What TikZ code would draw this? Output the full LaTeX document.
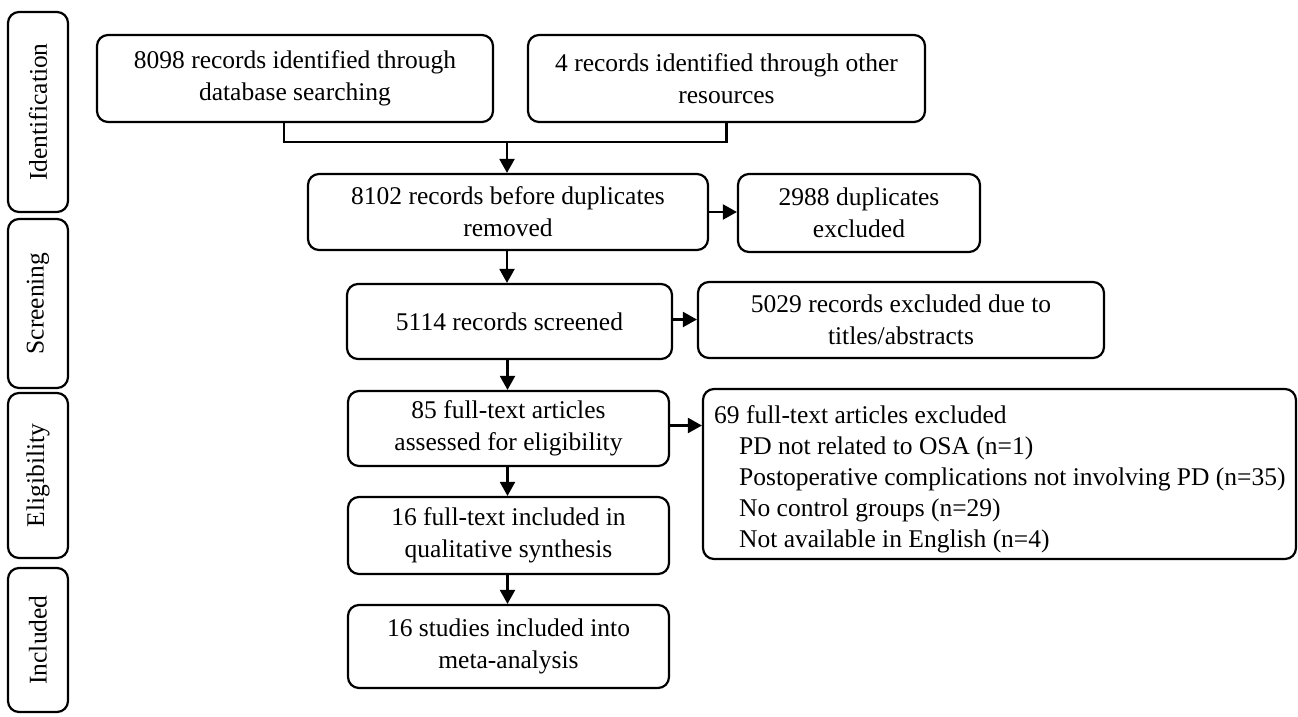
\documentclass[tikz,border=0pt]{standalone}
\usepackage{fontspec}
\setmainfont{Liberation Serif}
\usetikzlibrary{arrows.meta}
\tikzset{
  box/.style={draw=black, line width=2.2pt, rounded corners=11pt, align=center, inner sep=0pt,
    font=\fontsize{25.5}{32}\selectfont},
  side/.style={box},
  link/.style={draw=black, line width=2.2pt},
  arr/.style={link, -{Triangle[length=14pt,width=15pt]}},
}
\begin{document}
\begin{tikzpicture}[x=1pt,y=-1pt]
\fill[white] (0,0) rectangle (1298,716);
\useasboundingbox (0,0) rectangle (1298,716);
% phase labels
\node[side, minimum width=60pt, minimum height=200pt] (ident) at (38,112) {\rotatebox{90}{Identification}};
\node[side, minimum width=60pt, minimum height=169pt] (screen) at (38,303.5) {\rotatebox{90}{Screening}};
\node[side, minimum width=60pt, minimum height=165pt] (elig) at (38,475.5) {\rotatebox{90}{Eligibility}};
\node[side, minimum width=60pt, minimum height=144pt] (incl) at (38,640) {\rotatebox{90}{Included}};
% flow boxes
\node[box, minimum width=396pt, minimum height=87pt] (b1) at (295,78.5) {8098 records identified through\\database searching};
\node[box, minimum width=397pt, minimum height=87pt] (b2) at (726.5,78.5) {4 records identified through other\\resources};
\node[box, minimum width=400pt, minimum height=76pt] (b3) at (508,212) {8102 records before duplicates\\removed};
\node[box, minimum width=242pt, minimum height=78pt] (b4) at (859,213) {2988 duplicates\\excluded};
\node[box, minimum width=325pt, minimum height=75pt] (b5) at (509.5,321.5) {5114 records screened};
\node[box, minimum width=406pt, minimum height=76pt] (b6) at (901,320) {5029 records excluded due to\\titles/abstracts};
\node[box, minimum width=321pt, minimum height=75pt] (b7) at (508.5,428.5) {85 full-text articles\\assessed for eligibility};
\node[box, minimum width=593pt, minimum height=170pt] (big) at (999.5,474) {};
\node[anchor=west, align=left, inner sep=0pt, font=\fontsize{25.5}{31}\selectfont] (bigtext) at (714,479)
  {69 full-text articles excluded\\
   \hspace*{25pt}PD not related to OSA (n=1)\\
   \hspace*{25pt}Postoperative complications not involving PD (n=35)\\
   \hspace*{25pt}No control groups (n=29)\\
   \hspace*{25pt}Not available in English (n=4)};
\node[box, minimum width=321pt, minimum height=77pt] (b8) at (508.5,535.5) {16 full-text included in\\qualitative synthesis};
\node[box, minimum width=321pt, minimum height=83pt] (b9) at (508.5,646.5) {16 studies included into\\meta-analysis};
% connectors
\coordinate (j) at (507,142);
\draw[link] ([xshift=-11pt]b1.south) |- (j) -| (b2.south);
\draw[arr] (j) -- (j |- b3.north);
\draw[arr] (b3.east) -- (b3.east -| b4.west);
\draw[arr] ([xshift=-1pt]b3.south) -- ([xshift=-1pt]b3.south |- b5.north);
\draw[arr] ([yshift=2pt]b5.east) -- ([yshift=2pt]b5.east -| b6.west);
\draw[arr] ([xshift=-2pt]b5.south) -- ([xshift=-2pt]b5.south |- b7.north);
\draw[arr] ([yshift=3pt]b7.east) -- ([yshift=3pt]b7.east -| big.west);
\draw[arr] ([xshift=-1pt]b7.south) -- ([xshift=-1pt]b7.south |- b8.north);
\draw[arr] ([xshift=-1pt]b8.south) -- ([xshift=-1pt]b8.south |- b9.north);
\end{tikzpicture}
\end{document}
